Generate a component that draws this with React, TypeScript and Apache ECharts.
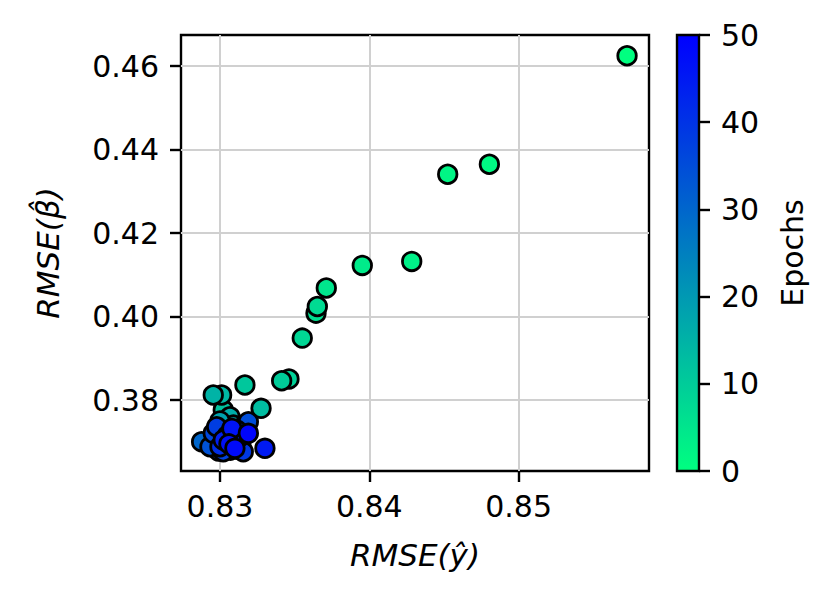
import React, { useEffect, useRef } from "react";
import * as echarts from "echarts";

// RMSE(ŷ) per epoch
const rmseY: number[] = [
  0.85726, 0.84804, 0.84525, 0.84284, 0.83953, 0.83712, 0.83643, 0.83652, 0.83551, 0.83462,
  0.83413, 0.83167, 0.83022, 0.83275, 0.83011, 0.82955, 0.83067, 0.8309, 0.83, 0.8315,
  0.83045, 0.8308, 0.8299, 0.8312, 0.8306, 0.8301, 0.831, 0.8296, 0.8314, 0.8304,
  0.82877, 0.8307, 0.8299, 0.8312, 0.82933, 0.8319, 0.82955, 0.83022, 0.82978, 0.83156,
  0.83112, 0.83, 0.83134, 0.8305, 0.83022, 0.83301, 0.8308, 0.8306, 0.831, 0.8319,
];
// RMSE(β̂) per epoch
const rmseBeta: number[] = [
  0.46247, 0.43648, 0.43408, 0.4132, 0.41224, 0.40683, 0.40081, 0.4024, 0.39483, 0.38503,
  0.38462, 0.38359, 0.3776, 0.37801, 0.3812, 0.3812, 0.376, 0.374, 0.375, 0.3735,
  0.3725, 0.373, 0.3715, 0.372, 0.3705, 0.3695, 0.37, 0.3705, 0.369, 0.3685,
  0.37001, 0.368, 0.3678, 0.3682, 0.36882, 0.3748, 0.37202, 0.36762, 0.3736, 0.36762,
  0.37281, 0.36882, 0.37121, 0.3715, 0.37042, 0.36843, 0.3732, 0.3695, 0.36843, 0.37202,
];
const epochs: number[] = rmseY.map((_, i) => i);

const xTicks: number[] = [0.83, 0.84, 0.85];
const yTicks: number[] = [0.38, 0.4, 0.42, 0.44, 0.46];
const X_MIN = 0.82739;
const X_MAX = 0.85873;
const Y_MIN = 0.363;
const Y_MAX = 0.46743;
const EPOCH_MIN = 0;
const EPOCH_MAX = 50;
const EPOCH_STEP = 10;
const COLOR_LOW = "#00ff80";
const COLOR_HIGH = "#0000ff";

const FONT = "DejaVu Sans";

export default function App() {
  const ref = useRef<HTMLDivElement>(null);
  useEffect(() => {
    if (!ref.current) return;
    const chart = echarts.init(ref.current, undefined, { renderer: "svg" });
    const data = rmseY.map((x, i) => [x, rmseBeta[i], epochs[i]]);
    const tickStyle = { show: true, length: 11, lineStyle: { color: "#000", width: 2.4 } };
    const labelStyle = { fontFamily: FONT, fontSize: 30, color: "#000" };
    chart.setOption({
      animation: false,
      backgroundColor: "#fff",
      grid: [
        { left: 181, top: 35, width: 468, height: 436, show: true, borderColor: "#000", borderWidth: 2.4, backgroundColor: "transparent" },
        { left: 677, top: 35, width: 22, height: 436, show: true, borderColor: "#000", borderWidth: 2.4, backgroundColor: "transparent", z: 3 },
      ],
      visualMap: {
        type: "continuous",
        show: false,
        min: EPOCH_MIN,
        max: EPOCH_MAX,
        dimension: 2,
        seriesIndex: 0,
        inRange: { color: [COLOR_LOW, COLOR_HIGH] },
      },
      xAxis: [
        {
          type: "value",
          gridIndex: 0,
          min: X_MIN,
          max: X_MAX,
          name: "RMSE(ŷ)",
          nameLocation: "middle",
          nameGap: 68,
          nameTextStyle: { ...labelStyle, fontSize: 31, fontStyle: "italic" },
          axisLine: { show: false },
          axisTick: { ...tickStyle, customValues: xTicks },
          axisLabel: { ...labelStyle, margin: 20, customValues: xTicks, formatter: (v: number) => v.toFixed(2) },
          splitLine: { show: true, lineStyle: { color: "#d0d0d0", width: 2 } },
        },
        {
          type: "category",
          gridIndex: 1,
          data: ["c"],
          show: false,
          boundaryGap: true,
        },
      ],
      yAxis: [
        {
          type: "value",
          gridIndex: 0,
          min: Y_MIN,
          max: Y_MAX,
          name: "RMSE(β̂)",
          nameLocation: "middle",
          nameGap: 118,
          nameRotate: 90,
          nameTextStyle: { ...labelStyle, fontSize: 31, fontStyle: "italic" },
          axisLine: { show: false },
          axisTick: { ...tickStyle, customValues: yTicks },
          axisLabel: { ...labelStyle, margin: 22, customValues: yTicks, formatter: (v: number) => v.toFixed(2) },
          splitLine: { show: true, lineStyle: { color: "#d0d0d0", width: 2 } },
        },
        {
          type: "value",
          gridIndex: 1,
          position: "right",
          min: EPOCH_MIN,
          max: EPOCH_MAX,
          interval: EPOCH_STEP,
          name: "Epochs",
          nameLocation: "middle",
          nameGap: 78,
          nameRotate: 90,
          nameTextStyle: labelStyle,
          axisLine: { show: false },
          axisTick: tickStyle,
          axisLabel: { ...labelStyle, margin: 22 },
          splitLine: { show: false },
        },
      ],
      series: [
        {
          type: "scatter",
          xAxisIndex: 0,
          yAxisIndex: 0,
          data,
          symbolSize: 18.5,
          itemStyle: { borderColor: "#000", borderWidth: 2.8, opacity: 1 },
          z: 2,
        },
        {
          type: "bar",
          xAxisIndex: 1,
          yAxisIndex: 1,
          data: [EPOCH_MAX],
          barWidth: "100%",
          itemStyle: {
            color: {
              type: "linear",
              x: 0,
              y: 1,
              x2: 0,
              y2: 0,
              colorStops: [
                { offset: 0, color: COLOR_LOW },
                { offset: 1, color: COLOR_HIGH },
              ],
            },
          },
        },
      ],
    });
    return () => chart.dispose();
  }, []);
  return <div ref={ref} style={{ width: 832, height: 605, margin: -8 }} />;
}
